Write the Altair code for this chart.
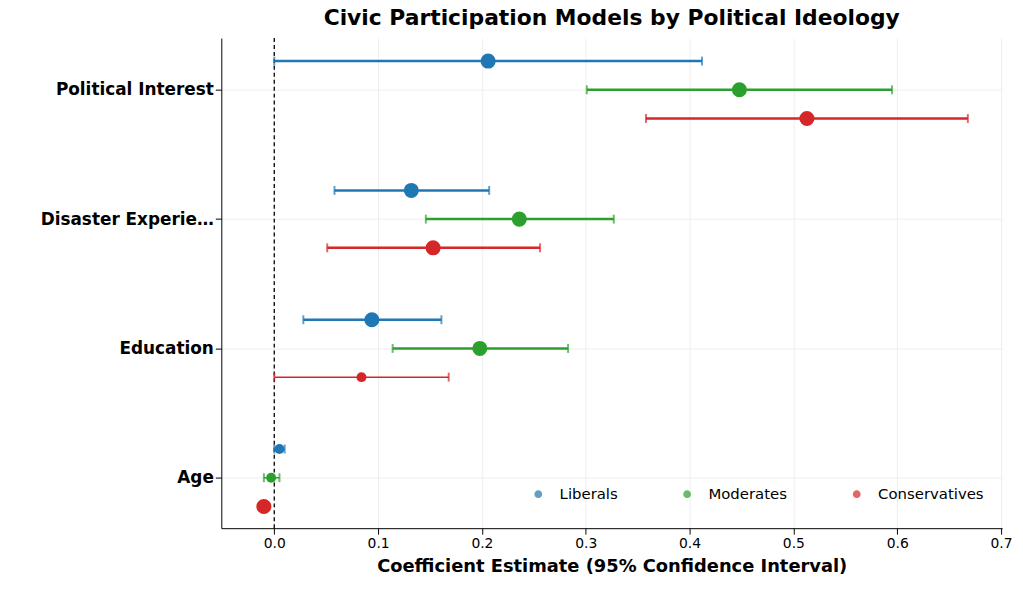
import pandas as pd
import altair as alt

variables = ["Political Interest", "Political Interest", "Political Interest",
             "Disaster Experience", "Disaster Experience", "Disaster Experience",
             "Education", "Education", "Education",
             "Age", "Age", "Age"]
groups = ["Liberals", "Moderates", "Conservatives"] * 4
estimate = [0.206, 0.448, 0.513, 0.132, 0.236, 0.153, 0.094, 0.198, 0.084, 0.005, -0.003, -0.010]
lower = [0.000, 0.301, 0.358, 0.058, 0.146, 0.051, 0.028, 0.114, 0.000, 0.000, -0.010, -0.015]
upper = [0.412, 0.595, 0.668, 0.207, 0.327, 0.256, 0.161, 0.283, 0.168, 0.010, 0.005, -0.005]
significant = [1, 1, 1, 1, 1, 1, 1, 1, 0, 0, 0, 1]

var_pos = {"Age": 0, "Education": 1, "Disaster Experience": 2, "Political Interest": 3}
grp_off = {"Liberals": 0.222, "Moderates": 0.0, "Conservatives": -0.222}

df = pd.DataFrame({"variable": variables, "group": groups, "est": estimate,
                   "lo": lower, "hi": upper, "sig": significant})
df["y"] = df["variable"].map(var_pos) + df["group"].map(grp_off)
df["w"] = df["sig"].map({1: 2.5, 0: 1.5})

colors = alt.Scale(domain=["Liberals", "Moderates", "Conservatives"],
                   range=["#1f77b4", "#2ca02c", "#d62728"])
xs = alt.Scale(domain=[-0.051, 0.701], nice=False, zero=False)
ys = alt.Scale(domain=[-0.39, 3.40], nice=False, zero=False)

legend = alt.Legend(orient="none", legendX=312, legendY=452,
                    direction="horizontal", symbolType="circle",
                    symbolSize=40, labelFontSize=15,
                    columnPadding=62, labelOffset=14)
col = alt.Color("group:N", scale=colors, title=None, legend=legend)

base = alt.Chart(df)
x_axis = alt.Axis(values=[0, 0.1, 0.2, 0.3, 0.4, 0.5, 0.6, 0.7], format=".1f",
                  title="Coefficient Estimate (95% Confidence Interval)",
                  titleFontSize=18, titleFontWeight="bold", labelFontSize=14,
                  gridColor="#eeeeee", titlePadding=8, tickSize=6)
y_axis = alt.Axis(values=[0, 1, 2, 3], title=None, labelFontSize=17, labelFontWeight="bold",
                  labelColor="black", gridColor="#eeeeee", tickSize=6,
                  labelExpr="datum.value == 0 ? 'Age' : datum.value == 1 ? 'Education' : datum.value == 2 ? 'Disaster Experience' : 'Political Interest'")

bars = base.mark_rule().encode(
    x=alt.X("lo:Q", scale=xs, axis=x_axis), x2="hi:Q",
    y=alt.Y("y:Q", scale=ys, axis=y_axis),
    color=col,
    strokeWidth=alt.StrokeWidth("w:Q", scale=None, legend=None))
cap_lo = base.mark_tick(orient="vertical", size=9, thickness=2).encode(
    x=alt.X("lo:Q", scale=xs), y=alt.Y("y:Q", scale=ys), color=col)
cap_hi = base.mark_tick(orient="vertical", size=9, thickness=2).encode(
    x=alt.X("hi:Q", scale=xs), y=alt.Y("y:Q", scale=ys), color=col)
zero = alt.Chart(pd.DataFrame({"z": [0]})).mark_rule(
    color="black", strokeDash=[4, 3], strokeWidth=1.3).encode(x=alt.X("z:Q", scale=xs))
points = base.mark_circle(opacity=1).encode(
    x=alt.X("est:Q", scale=xs), y=alt.Y("y:Q", scale=ys),
    size=alt.Size("sig:Q", scale=alt.Scale(domain=[0, 1], range=[100, 230]), legend=None),
    color=col)

chart = alt.layer(zero, bars, cap_lo, cap_hi, points).properties(
    width=787, height=494,
    autosize=alt.AutoSizeParams(type="none"),
    padding={"left": 215, "top": 28, "right": 13, "bottom": 60},
    title=alt.Title("Civic Participation Models by Political Ideology",
                    fontSize=22, fontWeight="bold", offset=8),
).configure(font="DejaVu Sans").configure_view(stroke=None).configure_axisLeft(
    domainColor="black", tickColor="black").configure_axisBottom(
    domainColor="black", tickColor="black")

chart.save("out.html", embed_options={"renderer": "svg", "actions": False})
